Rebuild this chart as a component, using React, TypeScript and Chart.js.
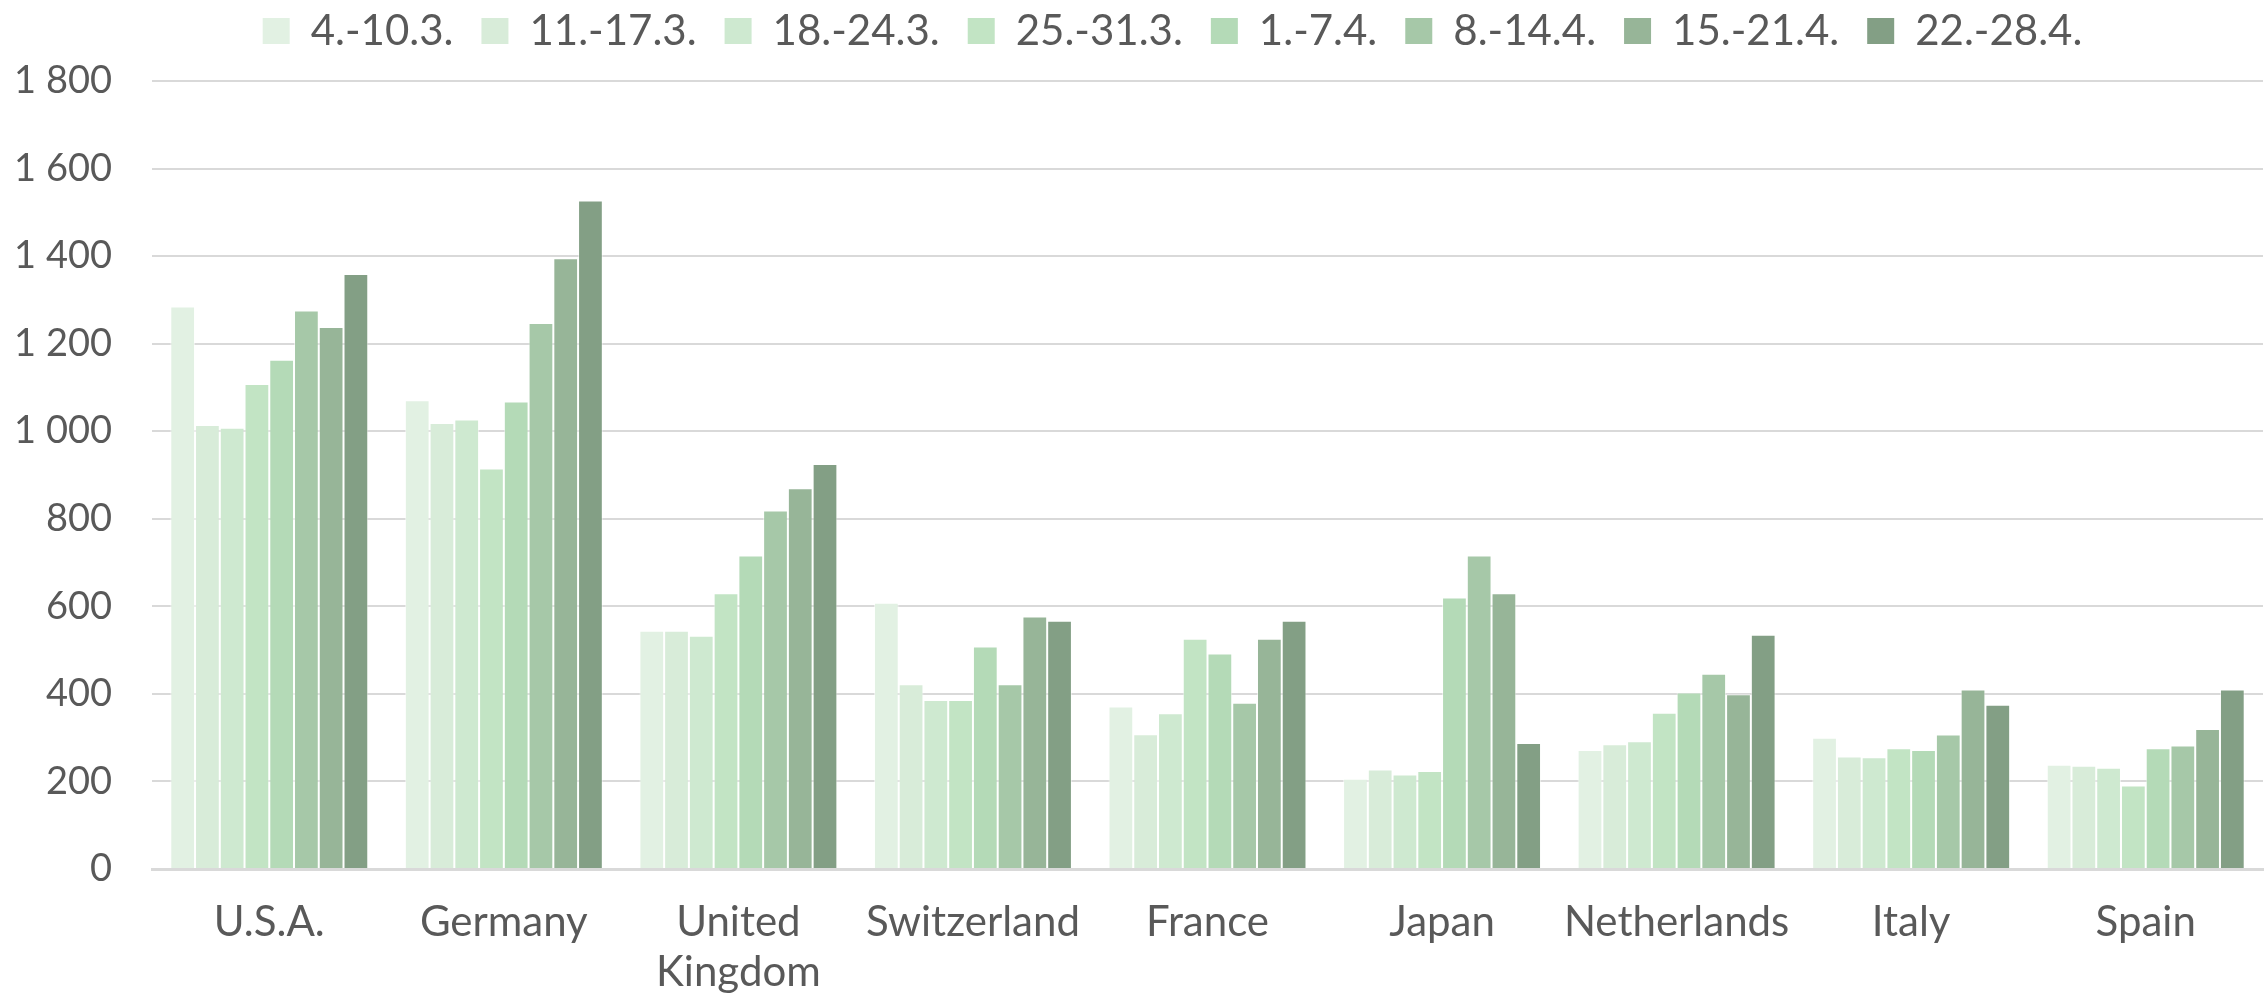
import React, { useEffect, useRef } from "react";
import { Chart, registerables } from "chart.js";

Chart.register(...registerables);

const categories: (string | string[])[] = [
  "U.S.A.",
  "Germany",
  ["United", "Kingdom"],
  "Switzerland",
  "France",
  "Japan",
  "Netherlands",
  "Italy",
  "Spain",
];

const seriesLabels = [
  "4.-10.3.",
  "11.-17.3.",
  "18.-24.3.",
  "25.-31.3.",
  "1.-7.4.",
  "8.-14.4.",
  "15.-21.4.",
  "22.-28.4.",
];

const week1 = [1285, 1071, 544, 608, 371, 206, 272, 300, 238];
const week2 = [1014, 1019, 544, 422, 308, 227, 285, 257, 236];
const week3 = [1008, 1027, 533, 386, 356, 216, 292, 255, 231];
const week4 = [1108, 915, 630, 386, 526, 224, 357, 276, 191];
const week5 = [1163, 1068, 716, 508, 492, 620, 403, 272, 276];
const week6 = [1276, 1247, 819, 422, 380, 716, 446, 307, 282];
const week7 = [1238, 1395, 870, 577, 526, 630, 399, 410, 320];
const week8 = [1359, 1527, 925, 567, 567, 288, 535, 375, 410];

const seriesValues = [week1, week2, week3, week4, week5, week6, week7, week8];

const colors = [
  "#E2F1E3",
  "#D8ECD9",
  "#CEE9D0",
  "#C2E4C4",
  "#B4DAB7",
  "#A6C8A8",
  "#97B598",
  "#839F85",
];

const yMin = 0;
const yMax = 1800;
const yStep = 200;

const labelFont = "Lato, 'Open Sans', sans-serif";
const textColor = "#595959";
const legendShiftX = 82;
const legendShiftY = -19;

function formatThousands(v: number): string {
  return String(v).replace(/\B(?=(\d{3})+(?!\d))/g, " ");
}

const legendOffsetPlugin = {
  id: "legendOffset",
  afterLayout(chart: any) {
    if (chart.legend) {
      chart.legend.left += legendShiftX;
      chart.legend.top += legendShiftY;
    }
  },
};

export default function App() {
  const canvasRef = useRef<HTMLCanvasElement | null>(null);

  useEffect(() => {
    document.body.style.margin = "0";
    const canvas = canvasRef.current;
    if (!canvas) return;
    const chart = new Chart(canvas, {
      type: "bar",
      data: {
        labels: categories as any,
        datasets: seriesValues.map((vals, i) => ({
          label: seriesLabels[i],
          data: vals,
          backgroundColor: colors[i],
          borderColor: "rgba(255,255,255,0.55)",
          borderWidth: 1,
          categoryPercentage: 0.844,
          barPercentage: 1,
        })),
      },
      plugins: [legendOffsetPlugin],
      options: {
        animation: false,
        responsive: false,
        devicePixelRatio: 1,
        layout: { padding: { top: 0, right: 4, bottom: 0, left: 0 } },
        plugins: {
          tooltip: { enabled: false },
          legend: {
            display: true,
            position: "top",
            labels: {
              color: textColor,
              font: { family: labelFont, size: 42 },
              boxWidth: 27,
              boxHeight: 26,
              padding: 28,
              generateLabels: (c: any) =>
                Chart.defaults.plugins.legend.labels
                  .generateLabels(c)
                  .map((l: any) => ({ ...l, lineWidth: 0, strokeStyle: "rgba(0,0,0,0)" })),
            },
          },
        },
        scales: {
          x: {
            grid: { display: false, drawTicks: false },
            border: { display: true, color: "#d9d9d9", width: 3 },
            ticks: {
              color: textColor,
              font: { family: labelFont, size: 42, lineHeight: 1.2 },
              padding: 28,
              maxRotation: 0,
              autoSkip: false,
            },
            afterFit: (s: any) => {
              s.height = 129;
            },
          },
          y: {
            min: yMin,
            max: yMax,
            grid: { color: "#d9d9d9", lineWidth: 2, drawTicks: false },
            border: { display: false },
            ticks: {
              stepSize: yStep,
              color: textColor,
              font: { family: labelFont, size: 38 },
              padding: 40,
              callback: (v: any) => formatThousands(Number(v)),
            },
            afterFit: (s: any) => {
              s.width = 152;
              s.paddingTop = 81;
            },
          },
        },
      },
    });
    return () => chart.destroy();
  }, []);

  return (
    <div style={{ position: "fixed", left: 0, top: 0, width: 2267, height: 998, background: "#fff" }}>
      <canvas ref={canvasRef} width={2267} height={998} />
    </div>
  );
}
